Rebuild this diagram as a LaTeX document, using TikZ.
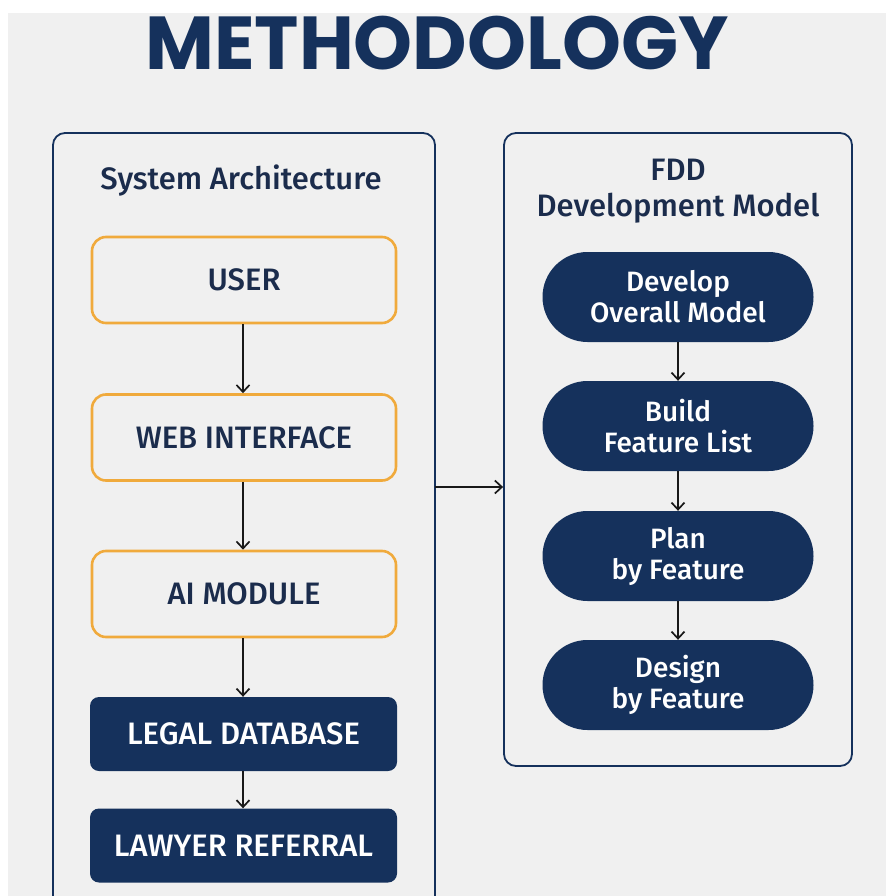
\documentclass[tikz,border=0pt]{standalone}
\usepackage{fontspec}
\setmainfont{Fira Sans}
\newfontfamily\titlefont{Poppins}[UprightFont={* Bold}]
\newfontfamily\medfont{Fira Sans Medium}
\usetikzlibrary{arrows.meta}
\definecolor{navy}{HTML}{15315C}
\definecolor{darktext}{HTML}{1B2C4C}
\definecolor{orangeb}{HTML}{F0AA3C}
\definecolor{bggrey}{HTML}{F0F0F0}
\tikzset{
  panel/.style={draw=navy, line width=1.8pt, rounded corners=12pt},
  obox/.style={draw=orangeb, line width=2.6pt, rounded corners=14pt, fill=bggrey,
    minimum width=304pt, minimum height=86pt, text=darktext, font=\medfont\fontsize{31}{34}\selectfont},
  nbox/.style={fill=navy, rounded corners=9pt, minimum width=307pt, minimum height=74pt,
    text=white, font=\medfont\fontsize{31}{34}\selectfont},
  pill/.style={fill=navy, rounded corners=45pt, minimum width=271pt, minimum height=90pt,
    text=white, align=center, font=\medfont\fontsize{28}{31}\selectfont},
  heading/.style={text=darktext, align=center, font=\medfont\fontsize{31}{36}\selectfont},
  arr/.style={-{Straight Barb[length=7pt,width=13pt]}, line width=1.7pt, draw=black!90}
}
\begin{document}
\begin{tikzpicture}[x=1pt,y=-1pt]
\useasboundingbox (0,0) rectangle (886,896);
\fill[white] (0,0) rectangle (886,896);
\fill[bggrey] (8,13) rectangle (886,896);
\node[text=navy, font=\titlefont\fontsize{75}{80}\selectfont] (title) at (437,43) {METHODOLOGY};
% panels
\draw[panel] (53,905) -- (53,133) -- (435,133) -- (435,905);
\node[panel, minimum width=348pt, minimum height=633pt] (right) at (678,449.5) {};
\coordinate (lp) at (435,487);
\node[heading] (sa) at (241,181) {System Architecture};
\node[heading] (fdd) at (678,191) {FDD\\Development Model};
% left boxes
\node[obox] (user) at (244,280) {USER};
\node[obox] (web) at (244,437.5) {WEB INTERFACE};
\node[obox] (ai) at (244,594) {AI MODULE};
\node[nbox] (db) at (243.5,734) {LEGAL DATABASE};
\node[nbox] (law) at (243.5,845.5) {LAWYER REFERRAL};
\draw[arr] (user.south -| 243,0) -- (web.north -| 243,0);
\draw[arr] (web.south -| 243,0) -- (ai.north -| 243,0);
\draw[arr] (ai.south -| 243,0) -- (db.north -| 243,0);
\draw[arr] (db.south -| 243,0) -- (law.north -| 243,0);
% right pills
\node[pill] (p1) at (678,297) {Develop\\Overall Model};
\node[pill] (p2) at (678,426) {Build\\Feature List};
\node[pill] (p3) at (678,556) {Plan\\by Feature};
\node[pill] (p4) at (678,685) {Design\\by Feature};
\draw[arr] (p1) -- (p2);
\draw[arr] (p2) -- (p3);
\draw[arr] (p3) -- (p4);
\draw[arr] (lp) -- (lp -| right.west);
\end{tikzpicture}
\end{document}
